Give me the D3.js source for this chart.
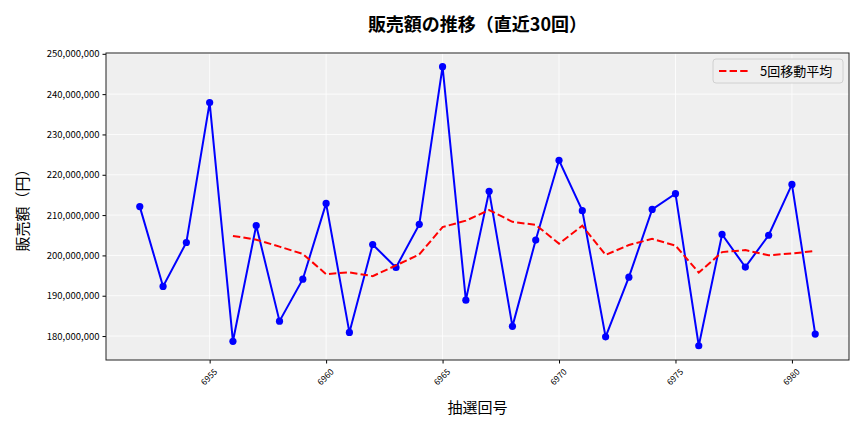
<!DOCTYPE html>
<html>
<head>
<meta charset="utf-8">
<script src="https://cdn.jsdelivr.net/npm/d3@7"></script>
<style>
  body { margin: 0; background: #fff; }
  svg text { font-family: "Noto Sans CJK JP", "Noto Sans", sans-serif; }
</style>
</head>
<body>
<div id="chart"></div>
<script>
// draw numbers (x axis)
var rounds = [6952, 6953, 6954, 6955, 6956, 6957, 6958, 6959, 6960, 6961,
  6962, 6963, 6964, 6965, 6966, 6967, 6968, 6969, 6970, 6971,
  6972, 6973, 6974, 6975, 6976, 6977, 6978, 6979, 6980, 6981];

// sales per draw, yen
var sales = [212100000, 192300000, 203200000, 237900000, 178700000, 207400000,
  183700000, 194100000, 212900000, 180900000, 202700000, 197000000,
  207700000, 246800000, 188900000, 215900000, 182400000, 203800000,
  223600000, 211100000, 179800000, 194600000, 211400000, 215300000,
  177600000, 205200000, 197100000, 205000000, 217600000, 180500000];

// 5-draw moving average (starts at 6956)
var maRounds = rounds.slice(4);
var movingAvg = [204840000, 203900000, 202180000, 200360000, 195360000, 195800000,
  194860000, 197520000, 200240000, 207020000, 208620000, 211260000,
  208340000, 207560000, 202920000, 207360000, 200140000, 202580000,
  204100000, 202440000, 195740000, 200820000, 201320000, 200040000,
  200500000, 201080000];

var xTicks = [6955, 6960, 6965, 6970, 6975, 6980];
var yTicks = [180000000, 190000000, 200000000, 210000000, 220000000,
  230000000, 240000000, 250000000];

var width = 864, height = 432;
var margin = { top: 53, right: 15, bottom: 72, left: 106 };
var w = width - margin.left - margin.right;
var h = height - margin.top - margin.bottom;

var svg = d3.select("#chart")
  .append("svg")
  .attr("width", width)
  .attr("height", height);

var g = svg.append("g")
  .attr("transform", "translate(" + margin.left + "," + margin.top + ")");

var x = d3.scaleLinear()
  .domain([6950.55, 6982.45])
  .range([0, w]);

var y = d3.scaleLinear()
  .domain([174060000, 250200000])
  .range([h, 0]);

// plot background
g.append("rect")
  .attr("width", w)
  .attr("height", h)
  .attr("fill", "#efefef");

// grid
g.selectAll(".gx")
  .data(xTicks)
  .enter()
  .append("line")
  .attr("x1", function(d) { return x(d); })
  .attr("x2", function(d) { return x(d); })
  .attr("y1", 0)
  .attr("y2", h)
  .attr("stroke", "#fff")
  .attr("stroke-width", 0.8);

g.selectAll(".gy")
  .data(yTicks)
  .enter()
  .append("line")
  .attr("x1", 0)
  .attr("x2", w)
  .attr("y1", function(d) { return y(d); })
  .attr("y2", function(d) { return y(d); })
  .attr("stroke", "#fff")
  .attr("stroke-width", 0.8);

// axes
var xAxis = g.append("g")
  .attr("transform", "translate(0," + h + ")")
  .call(d3.axisBottom(x).tickValues(xTicks).tickSize(3.5).tickFormat(d3.format("d")));
xAxis.select(".domain").remove();
xAxis.selectAll("text")
  .attr("font-size", 8.5)
  .attr("fill", "#000")
  .attr("text-anchor", "middle")
  .attr("x", 0)
  .attr("y", 0)
  .attr("dy", "0.35em")
  .attr("transform", "translate(-1,17) rotate(-45)");

var yAxis = g.append("g")
  .call(d3.axisLeft(y).tickValues(yTicks).tickSize(3.5).tickFormat(d3.format(",")));
yAxis.select(".domain").remove();
yAxis.selectAll("text")
  .attr("font-size", 9.5)
  .attr("fill", "#000");

// frame
g.append("rect")
  .attr("width", w)
  .attr("height", h)
  .attr("fill", "none")
  .attr("stroke", "#222")
  .attr("stroke-width", 1);

// sales line
var line = d3.line()
  .x(function(d, i) { return x(rounds[i]); })
  .y(function(d) { return y(d); });

g.append("path")
  .datum(sales)
  .attr("fill", "none")
  .attr("stroke", "#0000ff")
  .attr("stroke-width", 2)
  .attr("d", line);

g.selectAll(".dot")
  .data(sales)
  .enter()
  .append("circle")
  .attr("cx", function(d, i) { return x(rounds[i]); })
  .attr("cy", function(d) { return y(d); })
  .attr("r", 3.6)
  .attr("fill", "#0000ff");

// moving average
var maLine = d3.line()
  .x(function(d, i) { return x(maRounds[i]); })
  .y(function(d) { return y(d); });

g.append("path")
  .datum(movingAvg)
  .attr("fill", "none")
  .attr("stroke", "#ff0000")
  .attr("stroke-width", 2)
  .attr("stroke-dasharray", "7.4,3.2")
  .attr("d", maLine);

// legend
var legend = g.append("g")
  .attr("transform", "translate(" + (w - 136) + ",6)");
legend.append("rect")
  .attr("width", 130)
  .attr("height", 24)
  .attr("rx", 3)
  .attr("fill", "#efefef")
  .attr("stroke", "#d0d0d0");
legend.append("line")
  .attr("x1", 6)
  .attr("x2", 35)
  .attr("y1", 12)
  .attr("y2", 12)
  .attr("stroke", "#ff0000")
  .attr("stroke-width", 2)
  .attr("stroke-dasharray", "7.4,3.2");
legend.append("text")
  .attr("x", 47)
  .attr("y", 17)
  .attr("font-size", 13)
  .text("5回移動平均");

// title and labels
svg.append("text")
  .attr("x", margin.left + w / 2)
  .attr("y", 31)
  .attr("text-anchor", "middle")
  .attr("font-size", 18)
  .attr("font-weight", "bold")
  .text("販売額の推移（直近30回）");

svg.append("text")
  .attr("x", margin.left + w / 2)
  .attr("y", 413)
  .attr("text-anchor", "middle")
  .attr("font-size", 15)
  .text("抽選回号");

svg.append("text")
  .attr("transform", "translate(28," + (margin.top + h / 2) + ") rotate(-90)")
  .attr("text-anchor", "middle")
  .attr("font-size", 15)
  .text("販売額（円）");
</script>
</body>
</html>
